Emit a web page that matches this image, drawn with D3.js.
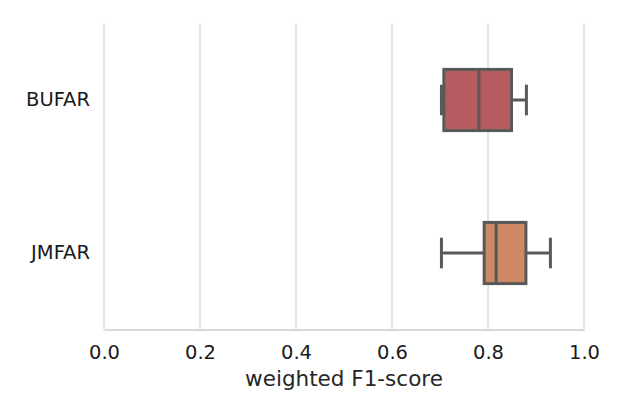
<!DOCTYPE html>
<html>
<head>
<meta charset="utf-8">
<script src="https://cdn.jsdelivr.net/npm/d3@7.9.0/dist/d3.min.js"></script>
<style>
  html, body { margin: 0; padding: 0; background: #fff; }
  svg { display: block; font-family: "DejaVu Sans", sans-serif; }
</style>
</head>
<body>
<div id="chart"></div>
<script>
// box statistics
const methods   = ['BUFAR', 'JMFAR'];
const whiskLow  = [0.703, 0.703];
const q1        = [0.708, 0.792];
const medians   = [0.781, 0.817];
const q3        = [0.849, 0.879];
const whiskHigh = [0.880, 0.930];
const fills     = ['#b65b5f', '#cc8963'];
const xTicks    = [0, 0.2, 0.4, 0.6, 0.8, 1.0];

const width = 623, height = 415;
const margin = { top: 23.5, right: 39, bottom: 85.5, left: 104 };

const svg = d3.select('#chart').append('svg')
  .attr('width', width)
  .attr('height', height);

const x = d3.scaleLinear()
  .domain([0, 1])
  .range([margin.left, width - margin.right]);

const y = d3.scaleBand()
  .domain(methods)
  .range([margin.top, height - margin.bottom]);

/* grid ---------------------------------------------------------- */
svg.append('g')
  .selectAll('line')
  .data(xTicks)
  .join('line')
    .attr('x1', d => x(d)).attr('x2', d => x(d))
    .attr('y1', margin.top).attr('y2', height - margin.bottom)
    .attr('stroke', '#d6d6d6')
    .attr('stroke-width', 1.3);

/* x axis -------------------------------------------------------- */
const xAxis = svg.append('g')
  .attr('transform', `translate(0,${height - margin.bottom})`)
  .call(d3.axisBottom(x).tickValues(xTicks).tickFormat(d3.format('.1f')).tickSize(0).tickPadding(16));
xAxis.select('.domain').attr('stroke', '#cccccc').attr('stroke-width', 1.5);
xAxis.selectAll('text').attr('font-size', 19.5).attr('fill', '#1a1a1a').attr('font-family', '"DejaVu Sans", sans-serif');

svg.append('text')
  .attr('x', x(0.5))
  .attr('y', 386)
  .attr('text-anchor', 'middle')
  .attr('font-size', 21.5)
  .attr('fill', '#262626')
  .text('weighted F1-score');

/* y axis -------------------------------------------------------- */
const yAxis = svg.append('g')
  .attr('transform', `translate(${margin.left},0)`)
  .call(d3.axisLeft(y).tickSize(0).tickPadding(14));
yAxis.select('.domain').remove();
yAxis.selectAll('text').attr('font-size', 19.5).attr('fill', '#1a1a1a').attr('font-family', '"DejaVu Sans", sans-serif');

/* boxes --------------------------------------------------------- */
const boxH = y.bandwidth() * 0.4;
const edge = '#595959', lw = 3;

const g = svg.append('g')
  .selectAll('g')
  .data(methods)
  .join('g')
    .attr('transform', d => `translate(0,${y(d) + y.bandwidth() / 2})`);

// whiskers
g.append('line')
  .attr('x1', (d, i) => x(whiskLow[i])).attr('x2', (d, i) => x(q1[i]))
  .attr('stroke', edge).attr('stroke-width', lw);
g.append('line')
  .attr('x1', (d, i) => x(q3[i])).attr('x2', (d, i) => x(whiskHigh[i]))
  .attr('stroke', edge).attr('stroke-width', lw);
// caps
g.selectAll('.cap')
  .data((d, i) => [whiskLow[i], whiskHigh[i]])
  .join('line')
    .attr('class', 'cap')
    .attr('x1', v => x(v)).attr('x2', v => x(v))
    .attr('y1', -boxH / 4).attr('y2', boxH / 4)
    .attr('stroke', edge).attr('stroke-width', lw);
// box
g.append('rect')
  .attr('x', (d, i) => x(q1[i]))
  .attr('width', (d, i) => x(q3[i]) - x(q1[i]))
  .attr('y', -boxH / 2)
  .attr('height', boxH)
  .attr('fill', (d, i) => fills[i])
  .attr('stroke', edge).attr('stroke-width', lw);
// median
g.append('line')
  .attr('x1', (d, i) => x(medians[i])).attr('x2', (d, i) => x(medians[i]))
  .attr('y1', -boxH / 2).attr('y2', boxH / 2)
  .attr('stroke', edge).attr('stroke-width', lw);
</script>
</body>
</html>
